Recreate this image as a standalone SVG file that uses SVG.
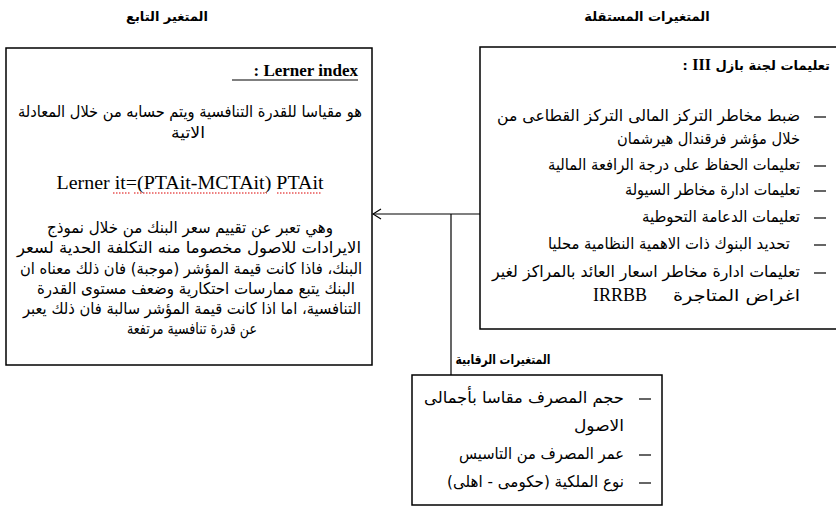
<svg xmlns="http://www.w3.org/2000/svg" width="836" height="507" viewBox="0 0 836 507">
<defs>
<style>
.box{fill:#fff;stroke:#000;stroke-width:1.5}
.ar{font-family:"DejaVu Sans","Noto Sans",sans-serif;font-size:16px;fill:#000;direction:rtl}
.arb{font-family:"DejaVu Sans","Noto Sans",sans-serif;font-size:13px;font-weight:bold;fill:#000;direction:rtl}
.tm{font-family:"Liberation Serif",serif;fill:#000}
.dash{stroke:#000;stroke-width:1.2}
.conn{stroke:#000;stroke-width:1.2;fill:none}
</style>
<marker id="arr" viewBox="-1 -6 10 12" markerWidth="10" markerHeight="12" refX="8" refY="0" orient="auto" markerUnits="userSpaceOnUse">
<path d="M0,-5 L8,0 L0,5" fill="none" stroke="#000" stroke-width="1.2"/>
</marker>
</defs>
<rect width="836" height="507" fill="#fff"/>

<text class="arb" x="167" y="21" text-anchor="middle">المتغير التابع</text>
<text class="arb" x="647" y="21" text-anchor="middle">المتغيرات المستقلة</text>

<g id="dependent">
<rect class="box" x="6" y="48" width="366" height="317"/>
<text class="tm" x="358" y="76" text-anchor="end" font-size="17" font-weight="bold" direction="ltr">: Lerner index</text>
<line x1="232" y1="80" x2="358" y2="80" stroke="#000" stroke-width="1.2"/>
<text class="ar" x="190" y="117" text-anchor="middle" textLength="344" lengthAdjust="spacingAndGlyphs">هو مقياسا للقدرة التنافسية ويتم حسابه من خلال المعادلة</text>
<text class="ar" x="188" y="138" text-anchor="middle" textLength="34" lengthAdjust="spacingAndGlyphs">الاتية</text>
<text class="tm" x="190" y="189" text-anchor="middle" font-size="18" textLength="267" lengthAdjust="spacingAndGlyphs" direction="ltr">Lerner it=(PTAit-MCTAit) PTAit</text>
<path d="M113,193 H131 M134,193 H267 M277,193 H322" stroke="#d00" stroke-width="1" stroke-dasharray="1.5 1.5" fill="none"/>
<text class="ar" x="190" y="233" text-anchor="middle" textLength="286" lengthAdjust="spacingAndGlyphs">وهي تعبر عن تقييم سعر البنك من خلال نموذج</text>
<text class="ar" x="189" y="253" text-anchor="middle" textLength="344" lengthAdjust="spacingAndGlyphs">الايرادات للاصول مخصوما منه التكلفة الحدية لسعر</text>
<text class="ar" x="191" y="274" text-anchor="middle" textLength="342" lengthAdjust="spacingAndGlyphs">البنك، فاذا كانت قيمة المؤشر (موجبة) فان ذلك معناه ان</text>
<text class="ar" x="196" y="294" text-anchor="middle" textLength="318" lengthAdjust="spacingAndGlyphs">البنك يتبع ممارسات احتكارية وضعف مستوى القدرة</text>
<text class="ar" x="192" y="314" text-anchor="middle" textLength="338" lengthAdjust="spacingAndGlyphs">التنافسية، اما اذا كانت قيمة المؤشر سالبة فان ذلك يعبر</text>
<text class="ar" x="192" y="334" text-anchor="middle" textLength="130" lengthAdjust="spacingAndGlyphs">عن قدرة تنافسية مرتفعة</text>
</g>

<g id="independent">
<rect class="box" x="480" y="47" width="370" height="282"/>
<text class="arb" x="830" y="70" text-anchor="start">تعليمات لجنة بازل <tspan class="tm" font-size="16" font-weight="bold">III</tspan> :</text>
<line class="dash" x1="814" y1="117" x2="826" y2="117"/>
<text class="ar" x="800" y="121" text-anchor="start" textLength="303" lengthAdjust="spacingAndGlyphs">ضبط مخاطر التركز المالى التركز القطاعى من</text>
<text class="ar" x="800" y="144" text-anchor="start" textLength="183" lengthAdjust="spacingAndGlyphs">خلال مؤشر فرقندال هيرشمان</text>
<line class="dash" x1="814" y1="166" x2="826" y2="166"/>
<text class="ar" x="800" y="170" text-anchor="start" textLength="252" lengthAdjust="spacingAndGlyphs">تعليمات الحفاظ على درجة الرافعة المالية</text>
<line class="dash" x1="814" y1="191" x2="826" y2="191"/>
<text class="ar" x="800" y="195" text-anchor="start" textLength="175" lengthAdjust="spacingAndGlyphs">تعليمات ادارة مخاطر السيولة</text>
<line class="dash" x1="814" y1="218" x2="826" y2="218"/>
<text class="ar" x="800" y="222" text-anchor="start" textLength="158" lengthAdjust="spacingAndGlyphs">تعليمات الدعامة التحوطية</text>
<line class="dash" x1="814" y1="245" x2="826" y2="245"/>
<text class="ar" x="790" y="249" text-anchor="start" textLength="242" lengthAdjust="spacingAndGlyphs">تحديد البنوك ذات الاهمية النظامية محليا</text>
<line class="dash" x1="814" y1="273" x2="826" y2="273"/>
<text class="ar" x="800" y="277" text-anchor="start" textLength="308" lengthAdjust="spacingAndGlyphs">تعليمات ادارة مخاطر اسعار العائد بالمراكز لغير</text>
<text class="ar" transform="translate(800,301) scale(1.2,1)" x="0" y="0" text-anchor="start">اغراض المتاجرة</text>
<text class="tm" x="593" y="301" font-size="18" direction="ltr">IRRBB</text>
</g>

<text class="arb" x="503" y="364" text-anchor="middle" textLength="95" lengthAdjust="spacingAndGlyphs">المتغيرات الرقابية</text>

<g id="control">
<rect class="box" x="412" y="375" width="250" height="130"/>
<line class="dash" x1="639" y1="399" x2="651" y2="399"/>
<text class="ar" x="624" y="403" text-anchor="start" textLength="200" lengthAdjust="spacingAndGlyphs">حجم المصرف مقاسا بأجمالى</text>
<text class="ar" x="624" y="431" text-anchor="start" textLength="50" lengthAdjust="spacingAndGlyphs">الاصول</text>
<line class="dash" x1="639" y1="455" x2="651" y2="455"/>
<text class="ar" x="624" y="459" text-anchor="start" textLength="165" lengthAdjust="spacingAndGlyphs">عمر المصرف من التاسيس</text>
<line class="dash" x1="639" y1="483" x2="651" y2="483"/>
<text class="ar" x="624" y="487" text-anchor="start" textLength="177" lengthAdjust="spacingAndGlyphs">نوع الملكية (حكومى - اهلى)</text>
</g>

<g id="connectors">
<line class="conn" x1="480" y1="214" x2="373" y2="214" marker-end="url(#arr)"/>
<line class="conn" x1="451" y1="375" x2="451" y2="214"/>
</g>
</svg>
